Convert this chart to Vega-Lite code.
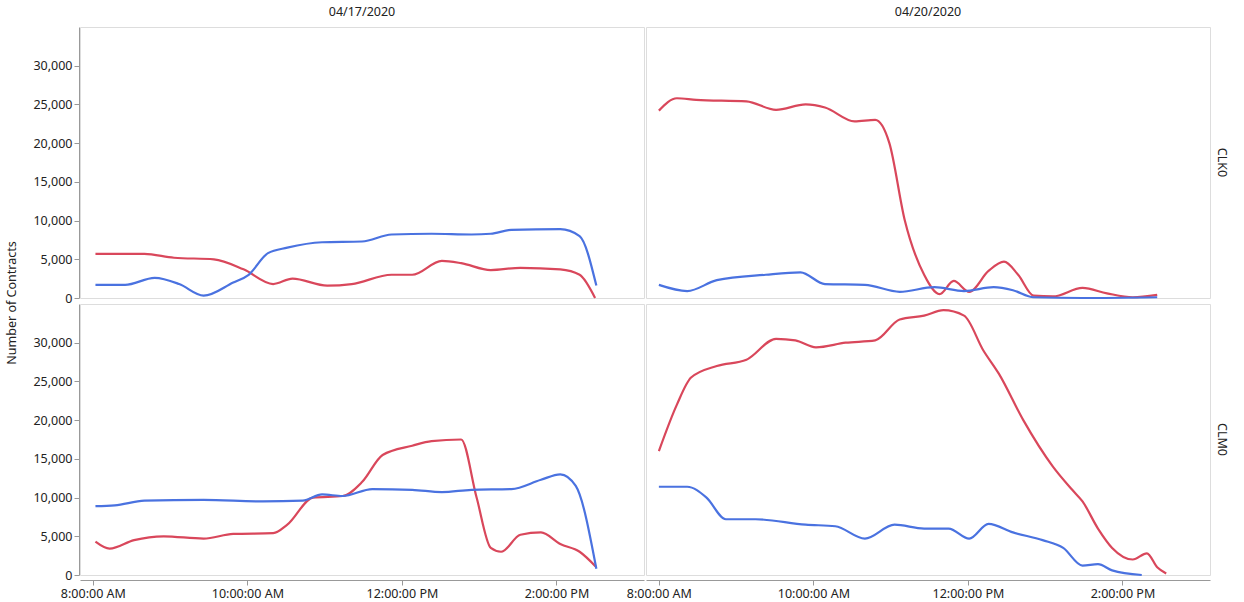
{
  "$schema": "https://vega.github.io/schema/vega-lite/v6.json",
  "config": {
    "font": "Noto Sans",
    "view": {"stroke": "#dddddd"},
    "axis": {"grid": false, "labelFontSize": 12.5, "titleFontSize": 12.5, "titleFontWeight": "normal", "domainColor": "#999", "tickColor": "#999", "labelColor": "#222"},
    "header": {"labelFontSize": 12.5, "labelColor": "#222", "titleFontSize": 12.5, "titleFontWeight": "normal", "titleColor": "#222"}
  },
  "spacing": 0,
  "data": {
    "values": [
      {"d":"04/17/2020","p":"CLK0","s":"red","t":"2020-01-01T08:02","v":5700},
      {"d":"04/17/2020","p":"CLK0","s":"red","t":"2020-01-01T08:40","v":5700},
      {"d":"04/17/2020","p":"CLK0","s":"red","t":"2020-01-01T09:03","v":5200},
      {"d":"04/17/2020","p":"CLK0","s":"red","t":"2020-01-01T09:34","v":5000},
      {"d":"04/17/2020","p":"CLK0","s":"red","t":"2020-01-01T09:57","v":3700},
      {"d":"04/17/2020","p":"CLK0","s":"red","t":"2020-01-01T10:20","v":1800},
      {"d":"04/17/2020","p":"CLK0","s":"red","t":"2020-01-01T10:35","v":2500},
      {"d":"04/17/2020","p":"CLK0","s":"red","t":"2020-01-01T11:02","v":1600},
      {"d":"04/17/2020","p":"CLK0","s":"red","t":"2020-01-01T11:21","v":1800},
      {"d":"04/17/2020","p":"CLK0","s":"red","t":"2020-01-01T11:52","v":3000},
      {"d":"04/17/2020","p":"CLK0","s":"red","t":"2020-01-01T12:08","v":3000},
      {"d":"04/17/2020","p":"CLK0","s":"red","t":"2020-01-01T12:31","v":4800},
      {"d":"04/17/2020","p":"CLK0","s":"red","t":"2020-01-01T12:46","v":4500},
      {"d":"04/17/2020","p":"CLK0","s":"red","t":"2020-01-01T13:09","v":3600},
      {"d":"04/17/2020","p":"CLK0","s":"red","t":"2020-01-01T13:32","v":3900},
      {"d":"04/17/2020","p":"CLK0","s":"red","t":"2020-01-01T14:03","v":3700},
      {"d":"04/17/2020","p":"CLK0","s":"red","t":"2020-01-01T14:18","v":3000},
      {"d":"04/17/2020","p":"CLK0","s":"red","t":"2020-01-01T14:30","v":0},
      {"d":"04/17/2020","p":"CLK0","s":"blue","t":"2020-01-01T08:02","v":1700},
      {"d":"04/17/2020","p":"CLK0","s":"blue","t":"2020-01-01T08:25","v":1700},
      {"d":"04/17/2020","p":"CLK0","s":"blue","t":"2020-01-01T08:48","v":2600},
      {"d":"04/17/2020","p":"CLK0","s":"blue","t":"2020-01-01T09:07","v":1800},
      {"d":"04/17/2020","p":"CLK0","s":"blue","t":"2020-01-01T09:26","v":300},
      {"d":"04/17/2020","p":"CLK0","s":"blue","t":"2020-01-01T09:49","v":2000},
      {"d":"04/17/2020","p":"CLK0","s":"blue","t":"2020-01-01T10:01","v":3000},
      {"d":"04/17/2020","p":"CLK0","s":"blue","t":"2020-01-01T10:16","v":5800},
      {"d":"04/17/2020","p":"CLK0","s":"blue","t":"2020-01-01T10:31","v":6500},
      {"d":"04/17/2020","p":"CLK0","s":"blue","t":"2020-01-01T10:58","v":7200},
      {"d":"04/17/2020","p":"CLK0","s":"blue","t":"2020-01-01T11:29","v":7300},
      {"d":"04/17/2020","p":"CLK0","s":"blue","t":"2020-01-01T11:52","v":8200},
      {"d":"04/17/2020","p":"CLK0","s":"blue","t":"2020-01-01T12:23","v":8300},
      {"d":"04/17/2020","p":"CLK0","s":"blue","t":"2020-01-01T12:54","v":8200},
      {"d":"04/17/2020","p":"CLK0","s":"blue","t":"2020-01-01T13:09","v":8300},
      {"d":"04/17/2020","p":"CLK0","s":"blue","t":"2020-01-01T13:25","v":8800},
      {"d":"04/17/2020","p":"CLK0","s":"blue","t":"2020-01-01T14:03","v":8900},
      {"d":"04/17/2020","p":"CLK0","s":"blue","t":"2020-01-01T14:18","v":8000},
      {"d":"04/17/2020","p":"CLK0","s":"blue","t":"2020-01-01T14:31","v":1600},
      {"d":"04/17/2020","p":"CLM0","s":"red","t":"2020-01-01T08:02","v":4300},
      {"d":"04/17/2020","p":"CLM0","s":"red","t":"2020-01-01T08:13","v":3400},
      {"d":"04/17/2020","p":"CLM0","s":"red","t":"2020-01-01T08:32","v":4500},
      {"d":"04/17/2020","p":"CLM0","s":"red","t":"2020-01-01T08:55","v":5000},
      {"d":"04/17/2020","p":"CLM0","s":"red","t":"2020-01-01T09:26","v":4700},
      {"d":"04/17/2020","p":"CLM0","s":"red","t":"2020-01-01T09:49","v":5300},
      {"d":"04/17/2020","p":"CLM0","s":"red","t":"2020-01-01T10:20","v":5400},
      {"d":"04/17/2020","p":"CLM0","s":"red","t":"2020-01-01T10:31","v":6500},
      {"d":"04/17/2020","p":"CLM0","s":"red","t":"2020-01-01T10:51","v":10000},
      {"d":"04/17/2020","p":"CLM0","s":"red","t":"2020-01-01T11:14","v":10200},
      {"d":"04/17/2020","p":"CLM0","s":"red","t":"2020-01-01T11:29","v":12000},
      {"d":"04/17/2020","p":"CLM0","s":"red","t":"2020-01-01T11:45","v":15500},
      {"d":"04/17/2020","p":"CLM0","s":"red","t":"2020-01-01T12:08","v":16700},
      {"d":"04/17/2020","p":"CLM0","s":"red","t":"2020-01-01T12:23","v":17300},
      {"d":"04/17/2020","p":"CLM0","s":"red","t":"2020-01-01T12:46","v":17500},
      {"d":"04/17/2020","p":"CLM0","s":"red","t":"2020-01-01T12:58","v":10000},
      {"d":"04/17/2020","p":"CLM0","s":"red","t":"2020-01-01T13:09","v":3500},
      {"d":"04/17/2020","p":"CLM0","s":"red","t":"2020-01-01T13:17","v":3000},
      {"d":"04/17/2020","p":"CLM0","s":"red","t":"2020-01-01T13:32","v":5200},
      {"d":"04/17/2020","p":"CLM0","s":"red","t":"2020-01-01T13:48","v":5500},
      {"d":"04/17/2020","p":"CLM0","s":"red","t":"2020-01-01T14:03","v":4000},
      {"d":"04/17/2020","p":"CLM0","s":"red","t":"2020-01-01T14:18","v":3000},
      {"d":"04/17/2020","p":"CLM0","s":"red","t":"2020-01-01T14:31","v":1000},
      {"d":"04/17/2020","p":"CLM0","s":"blue","t":"2020-01-01T08:02","v":8900},
      {"d":"04/17/2020","p":"CLM0","s":"blue","t":"2020-01-01T08:17","v":9000},
      {"d":"04/17/2020","p":"CLM0","s":"blue","t":"2020-01-01T08:40","v":9600},
      {"d":"04/17/2020","p":"CLM0","s":"blue","t":"2020-01-01T09:26","v":9700},
      {"d":"04/17/2020","p":"CLM0","s":"blue","t":"2020-01-01T10:12","v":9500},
      {"d":"04/17/2020","p":"CLM0","s":"blue","t":"2020-01-01T10:43","v":9600},
      {"d":"04/17/2020","p":"CLM0","s":"blue","t":"2020-01-01T10:58","v":10400},
      {"d":"04/17/2020","p":"CLM0","s":"blue","t":"2020-01-01T11:14","v":10200},
      {"d":"04/17/2020","p":"CLM0","s":"blue","t":"2020-01-01T11:37","v":11100},
      {"d":"04/17/2020","p":"CLM0","s":"blue","t":"2020-01-01T12:08","v":11000},
      {"d":"04/17/2020","p":"CLM0","s":"blue","t":"2020-01-01T12:31","v":10700},
      {"d":"04/17/2020","p":"CLM0","s":"blue","t":"2020-01-01T12:54","v":11000},
      {"d":"04/17/2020","p":"CLM0","s":"blue","t":"2020-01-01T13:25","v":11100},
      {"d":"04/17/2020","p":"CLM0","s":"blue","t":"2020-01-01T13:48","v":12300},
      {"d":"04/17/2020","p":"CLM0","s":"blue","t":"2020-01-01T14:03","v":13000},
      {"d":"04/17/2020","p":"CLM0","s":"blue","t":"2020-01-01T14:15","v":11500},
      {"d":"04/17/2020","p":"CLM0","s":"blue","t":"2020-01-01T14:31","v":800},
      {"d":"04/20/2020","p":"CLK0","s":"red","t":"2020-01-01T08:00","v":24200},
      {"d":"04/20/2020","p":"CLK0","s":"red","t":"2020-01-01T08:14","v":25800},
      {"d":"04/20/2020","p":"CLK0","s":"red","t":"2020-01-01T08:29","v":25600},
      {"d":"04/20/2020","p":"CLK0","s":"red","t":"2020-01-01T09:08","v":25400},
      {"d":"04/20/2020","p":"CLK0","s":"red","t":"2020-01-01T09:31","v":24300},
      {"d":"04/20/2020","p":"CLK0","s":"red","t":"2020-01-01T09:54","v":25000},
      {"d":"04/20/2020","p":"CLK0","s":"red","t":"2020-01-01T10:09","v":24600},
      {"d":"04/20/2020","p":"CLK0","s":"red","t":"2020-01-01T10:32","v":22800},
      {"d":"04/20/2020","p":"CLK0","s":"red","t":"2020-01-01T10:48","v":23000},
      {"d":"04/20/2020","p":"CLK0","s":"red","t":"2020-01-01T10:59","v":20000},
      {"d":"04/20/2020","p":"CLK0","s":"red","t":"2020-01-01T11:11","v":10000},
      {"d":"04/20/2020","p":"CLK0","s":"red","t":"2020-01-01T11:26","v":3000},
      {"d":"04/20/2020","p":"CLK0","s":"red","t":"2020-01-01T11:38","v":500},
      {"d":"04/20/2020","p":"CLK0","s":"red","t":"2020-01-01T11:49","v":2200},
      {"d":"04/20/2020","p":"CLK0","s":"red","t":"2020-01-01T12:01","v":800},
      {"d":"04/20/2020","p":"CLK0","s":"red","t":"2020-01-01T12:16","v":3500},
      {"d":"04/20/2020","p":"CLK0","s":"red","t":"2020-01-01T12:28","v":4700},
      {"d":"04/20/2020","p":"CLK0","s":"red","t":"2020-01-01T12:39","v":3000},
      {"d":"04/20/2020","p":"CLK0","s":"red","t":"2020-01-01T12:51","v":300},
      {"d":"04/20/2020","p":"CLK0","s":"red","t":"2020-01-01T13:06","v":200},
      {"d":"04/20/2020","p":"CLK0","s":"red","t":"2020-01-01T13:29","v":1300},
      {"d":"04/20/2020","p":"CLK0","s":"red","t":"2020-01-01T13:48","v":600},
      {"d":"04/20/2020","p":"CLK0","s":"red","t":"2020-01-01T14:08","v":100},
      {"d":"04/20/2020","p":"CLK0","s":"red","t":"2020-01-01T14:27","v":400},
      {"d":"04/20/2020","p":"CLK0","s":"blue","t":"2020-01-01T08:00","v":1700},
      {"d":"04/20/2020","p":"CLK0","s":"blue","t":"2020-01-01T08:22","v":900},
      {"d":"04/20/2020","p":"CLK0","s":"blue","t":"2020-01-01T08:45","v":2300},
      {"d":"04/20/2020","p":"CLK0","s":"blue","t":"2020-01-01T09:23","v":3000},
      {"d":"04/20/2020","p":"CLK0","s":"blue","t":"2020-01-01T09:50","v":3300},
      {"d":"04/20/2020","p":"CLK0","s":"blue","t":"2020-01-01T10:09","v":1800},
      {"d":"04/20/2020","p":"CLK0","s":"blue","t":"2020-01-01T10:40","v":1700},
      {"d":"04/20/2020","p":"CLK0","s":"blue","t":"2020-01-01T11:07","v":800},
      {"d":"04/20/2020","p":"CLK0","s":"blue","t":"2020-01-01T11:34","v":1400},
      {"d":"04/20/2020","p":"CLK0","s":"blue","t":"2020-01-01T11:57","v":900},
      {"d":"04/20/2020","p":"CLK0","s":"blue","t":"2020-01-01T12:20","v":1400},
      {"d":"04/20/2020","p":"CLK0","s":"blue","t":"2020-01-01T12:35","v":1000},
      {"d":"04/20/2020","p":"CLK0","s":"blue","t":"2020-01-01T12:51","v":100},
      {"d":"04/20/2020","p":"CLK0","s":"blue","t":"2020-01-01T13:29","v":0},
      {"d":"04/20/2020","p":"CLK0","s":"blue","t":"2020-01-01T14:27","v":100},
      {"d":"04/20/2020","p":"CLM0","s":"red","t":"2020-01-01T08:00","v":16000},
      {"d":"04/20/2020","p":"CLM0","s":"red","t":"2020-01-01T08:14","v":22000},
      {"d":"04/20/2020","p":"CLM0","s":"red","t":"2020-01-01T08:25","v":25500},
      {"d":"04/20/2020","p":"CLM0","s":"red","t":"2020-01-01T08:45","v":27000},
      {"d":"04/20/2020","p":"CLM0","s":"red","t":"2020-01-01T09:08","v":27800},
      {"d":"04/20/2020","p":"CLM0","s":"red","t":"2020-01-01T09:31","v":30500},
      {"d":"04/20/2020","p":"CLM0","s":"red","t":"2020-01-01T09:46","v":30300},
      {"d":"04/20/2020","p":"CLM0","s":"red","t":"2020-01-01T10:02","v":29400},
      {"d":"04/20/2020","p":"CLM0","s":"red","t":"2020-01-01T10:25","v":30000},
      {"d":"04/20/2020","p":"CLM0","s":"red","t":"2020-01-01T10:48","v":30300},
      {"d":"04/20/2020","p":"CLM0","s":"red","t":"2020-01-01T11:07","v":33000},
      {"d":"04/20/2020","p":"CLM0","s":"red","t":"2020-01-01T11:26","v":33500},
      {"d":"04/20/2020","p":"CLM0","s":"red","t":"2020-01-01T11:41","v":34200},
      {"d":"04/20/2020","p":"CLM0","s":"red","t":"2020-01-01T11:57","v":33500},
      {"d":"04/20/2020","p":"CLM0","s":"red","t":"2020-01-01T12:12","v":29000},
      {"d":"04/20/2020","p":"CLM0","s":"red","t":"2020-01-01T12:24","v":26000},
      {"d":"04/20/2020","p":"CLM0","s":"red","t":"2020-01-01T12:43","v":20000},
      {"d":"04/20/2020","p":"CLM0","s":"red","t":"2020-01-01T13:06","v":14000},
      {"d":"04/20/2020","p":"CLM0","s":"red","t":"2020-01-01T13:21","v":11000},
      {"d":"04/20/2020","p":"CLM0","s":"red","t":"2020-01-01T13:29","v":9500},
      {"d":"04/20/2020","p":"CLM0","s":"red","t":"2020-01-01T13:41","v":6000},
      {"d":"04/20/2020","p":"CLM0","s":"red","t":"2020-01-01T13:52","v":3500},
      {"d":"04/20/2020","p":"CLM0","s":"red","t":"2020-01-01T14:08","v":2000},
      {"d":"04/20/2020","p":"CLM0","s":"red","t":"2020-01-01T14:19","v":2800},
      {"d":"04/20/2020","p":"CLM0","s":"red","t":"2020-01-01T14:27","v":1000},
      {"d":"04/20/2020","p":"CLM0","s":"red","t":"2020-01-01T14:34","v":200},
      {"d":"04/20/2020","p":"CLM0","s":"blue","t":"2020-01-01T08:00","v":11400},
      {"d":"04/20/2020","p":"CLM0","s":"blue","t":"2020-01-01T08:22","v":11400},
      {"d":"04/20/2020","p":"CLM0","s":"blue","t":"2020-01-01T08:37","v":10000},
      {"d":"04/20/2020","p":"CLM0","s":"blue","t":"2020-01-01T08:52","v":7200},
      {"d":"04/20/2020","p":"CLM0","s":"blue","t":"2020-01-01T09:15","v":7200},
      {"d":"04/20/2020","p":"CLM0","s":"blue","t":"2020-01-01T09:54","v":6500},
      {"d":"04/20/2020","p":"CLM0","s":"blue","t":"2020-01-01T10:17","v":6300},
      {"d":"04/20/2020","p":"CLM0","s":"blue","t":"2020-01-01T10:40","v":4700},
      {"d":"04/20/2020","p":"CLM0","s":"blue","t":"2020-01-01T11:03","v":6500},
      {"d":"04/20/2020","p":"CLM0","s":"blue","t":"2020-01-01T11:26","v":6000},
      {"d":"04/20/2020","p":"CLM0","s":"blue","t":"2020-01-01T11:45","v":6000},
      {"d":"04/20/2020","p":"CLM0","s":"blue","t":"2020-01-01T12:01","v":4700},
      {"d":"04/20/2020","p":"CLM0","s":"blue","t":"2020-01-01T12:16","v":6600},
      {"d":"04/20/2020","p":"CLM0","s":"blue","t":"2020-01-01T12:35","v":5500},
      {"d":"04/20/2020","p":"CLM0","s":"blue","t":"2020-01-01T12:58","v":4500},
      {"d":"04/20/2020","p":"CLM0","s":"blue","t":"2020-01-01T13:14","v":3500},
      {"d":"04/20/2020","p":"CLM0","s":"blue","t":"2020-01-01T13:29","v":1200},
      {"d":"04/20/2020","p":"CLM0","s":"blue","t":"2020-01-01T13:41","v":1400},
      {"d":"04/20/2020","p":"CLM0","s":"blue","t":"2020-01-01T13:52","v":600},
      {"d":"04/20/2020","p":"CLM0","s":"blue","t":"2020-01-01T14:15","v":0}
    ]
  },
  "facet": {
    "column": {"field": "d", "type": "ordinal", "title": null, "header": {"labelOrient": "top", "labelPadding": 8}},
    "row": {"field": "p", "type": "ordinal", "title": "Number of Contracts",
      "header": {"labelOrient": "right", "labelAngle": 90, "labelPadding": 4, "titleOrient": "left", "titlePadding": 4}}
  },
  "spec": {
    "width": 564,
    "height": 271,
    "mark": {"type": "line", "interpolate": "monotone", "strokeWidth": 2.2},
    "encoding": {
      "x": {
        "field": "t", "type": "temporal", "title": null,
        "scale": {"domain": [
          {"year": 2020, "month": 1, "date": 1, "hours": 7, "minutes": 50},
          {"year": 2020, "month": 1, "date": 1, "hours": 15, "minutes": 8}
        ]},
        "axis": {"format": "%-I:%M:%S %p", "values": [
          {"year": 2020, "month": 1, "date": 1, "hours": 8},
          {"year": 2020, "month": 1, "date": 1, "hours": 10},
          {"year": 2020, "month": 1, "date": 1, "hours": 12},
          {"year": 2020, "month": 1, "date": 1, "hours": 14}
        ]}
      },
      "y": {
        "field": "v", "type": "quantitative", "title": null,
        "scale": {"domain": [0, 35000]},
        "axis": {"values": [0, 5000, 10000, 15000, 20000, 25000, 30000], "format": ",d"}
      },
      "color": {"field": "s", "type": "nominal", "legend": null,
        "scale": {"domain": ["red", "blue"], "range": ["#d9475b", "#4a72e0"]}}
    }
  }
}
